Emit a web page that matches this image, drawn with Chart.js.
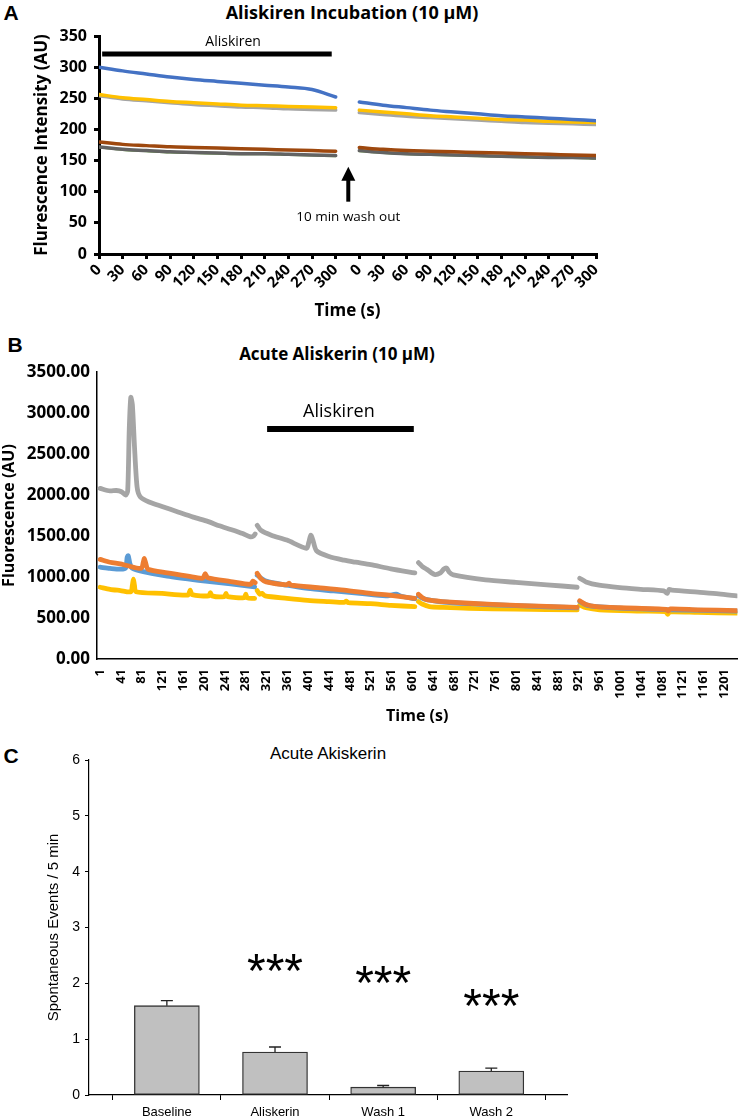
<!DOCTYPE html>
<html lang="en">
<head>
<meta charset="UTF-8">
<title>Aliskiren</title>
<style>
  body { margin: 0; background: #fff; }
  #page { position: relative; width: 750px; height: 1120px; overflow: hidden; background: #fff; }
  .box { position: absolute; }
  .txt { position: absolute; transform: translate(-50%, -50%); white-space: nowrap; color: #000; }
  .letter { font-family: 'Liberation Sans', Arial, sans-serif; font-weight: bold; font-size: 21px; }
  .head { font-family: 'Open Sans', sans-serif; font-weight: bold; }
</style>
</head>
<body>
<div id="page">
  <!-- panel A -->
  <div class="txt letter" style="left:11px;top:13px">A</div>
  <div class="txt head" style="left:352px;top:12px;font-size:18px">Aliskiren Incubation (10 μM)</div>
  <div class="box" style="left:0;top:0;width:700px;height:325px"><canvas id="chartA"></canvas></div>

  <!-- panel B -->
  <div class="txt letter" style="left:15px;top:345px">B</div>
  <div class="txt head" style="left:337px;top:353px;font-size:17px">Acute Aliskerin (10 μM)</div>
  <div class="box" style="left:0;top:330px;width:750px;height:396px"><canvas id="chartB"></canvas></div>

  <!-- panel C -->
  <div class="txt letter" style="left:11px;top:756px">C</div>
  <div class="txt" style="left:328px;top:754px;font-family:'Liberation Sans',Arial,sans-serif;font-size:17px">Acute Akiskerin</div>
  <div class="box" style="left:0;top:735px;width:600px;height:385px"><canvas id="chartC"></canvas></div>
</div>

<script src="https://cdn.jsdelivr.net/npm/chart.js"></script>
<script>
// ---------- panel A : two 5 min recordings, 10 min wash out between ----------
const timesA = [0, 30, 60, 90, 120, 150, 180, 210, 240, 270, 300];
const washGapA = 330;   // second recording is drawn after the first one
const blueA1   = [300, 294, 289, 284, 280, 277, 274, 271, 268, 264, 252];
const blueA2   = [244, 239, 235, 231, 228, 225, 222, 220, 218, 216, 214];
const yellowA1 = [256, 251, 248, 245, 243, 241, 239, 238, 237, 236, 235];
const yellowA2 = [231, 228, 225, 222, 220, 218, 216, 215, 213, 212, 211];
const grayA1   = [254, 249, 246, 243, 240, 238, 236, 235, 233, 232, 231];
const grayA2   = [227, 224, 221, 219, 217, 215, 213, 211, 210, 209, 208];
const brownA1  = [180, 176, 174, 172, 171, 170, 169, 168, 167, 166, 165];
const brownA2  = [171, 168, 166, 165, 164, 163, 162, 161, 160, 159, 158];
const dgrayA1  = [172, 168, 166, 164, 163, 162, 161, 161, 160, 159, 158];
const dgrayA2  = [166, 163, 161, 160, 159, 158, 157, 156, 155, 155, 154];
const greenA1  = [171, 167, 165, 163, 162, 161, 160, 160, 159, 158, 157];
const greenA2  = [165, 162, 160, 159, 158, 157, 156, 155, 154, 154, 153];

// ---------- panel B : [time (s), fluorescence], null = break between recordings ----------
const grayB = [
  [1,2080],[20,2050],[32,2055],[42,2040],[50,2000],[54,2050],[57,2800],[60,3190],[63,3100],[67,2600],[72,2100],[78,1980],
  [95,1915],[120,1860],[152,1790],[180,1730],[209,1675],[230,1625],[252,1580],[275,1530],[290,1490],[296,1500],[299,1525],
  null,
  [303,1630],[310,1570],[330,1510],[360,1450],[398,1350],[402,1420],[406,1510],[410,1450],[417,1320],[441,1250],
  [470,1205],[492,1180],[521,1150],[560,1100],[606,1050],
  null,
  [613,1175],[620,1130],[630,1090],[644,1030],[655,1050],[662,1100],[667,1110],[672,1060],[680,1025],[742,965],
  [800,935],[860,905],[918,875],
  null,
  [923,985],[935,940],[960,900],[1000,870],[1040,850],[1085,830],[1091,800],[1095,850],[1100,840],[1150,815],
  [1190,795],[1225,770]
];
const orangeB = [
  [1,1215],[20,1180],[40,1160],[52,1140],[80,1105],[84,1180],[86,1225],[89,1160],[93,1095],[130,1050],[170,1010],
  [198,985],[203,1040],[208,990],[252,945],[290,910],[295,950],[299,930],
  null,
  [303,1045],[310,980],[320,940],[360,905],[364,925],[368,900],[420,870],[470,840],[521,800],[560,775],[606,740],
  null,
  [613,790],[620,750],[630,720],[660,700],[710,680],[800,655],[918,630],
  null,
  [923,710],[935,665],[955,640],[1000,625],[1090,605],[1093,585],[1097,610],[1150,600],[1225,590]
];
const blueB = [
  [1,1120],[20,1105],[40,1095],[50,1110],[53,1240],[55,1260],[58,1170],[62,1110],[84,1065],[130,1010],[190,960],
  [252,915],[298,880],
  null,
  [303,1020],[320,950],[360,900],[400,860],[450,830],[500,800],[550,770],[570,790],[580,765],[606,735],
  null,
  [613,770],[625,730],[660,695],[710,675],[800,650],[918,625],
  null,
  [923,700],[940,650],[1000,620],[1100,600],[1225,585]
];
const yellowB = [
  [1,875],[20,850],[40,835],[60,820],[63,900],[65,975],[67,900],[70,820],[120,800],[170,780],[174,840],[178,785],
  [210,770],[213,810],[216,770],[240,762],[243,800],[246,760],[278,748],[281,790],[284,745],[298,740],
  null,
  [303,835],[308,790],[312,800],[318,770],[360,740],[400,715],[441,700],[470,690],[474,705],[478,688],[521,675],
  [560,655],[606,638],
  null,
  [613,700],[620,670],[634,640],[660,630],[710,618],[800,608],[918,598],
  null,
  [923,660],[935,625],[961,600],[1040,585],[1088,578],[1092,545],[1096,575],[1150,568],[1225,560]
];
const tickTimesB = [1, 41, 81, 121, 161, 201, 241, 281, 321, 361, 401, 441, 481, 521, 561, 601, 641, 681,
  721, 761, 801, 841, 881, 921, 961, 1001, 1041, 1081, 1121, 1161, 1201];

// ---------- panel C ----------
const groupsC = ['Baseline', 'Aliskerin', 'Wash 1', 'Wash 2'];
const eventsC = [1.6, 0.77, 0.14, 0.43];
const semC    = [0.09, 0.09, 0.03, 0.05];
const starsC  = ['', '***', '***', '***'];
const starLevelC = [null, 2.42, 2.2, 1.79];

Chart.defaults.font.family = "'Open Sans', sans-serif";
Chart.defaults.color = '#000';

const segA = (a1, a2) => timesA.map((t, i) => ({x: t, y: a1[i]}))
  .concat([{x: 315, y: null}])
  .concat(timesA.map((t, i) => ({x: t + washGapA, y: a2[i]})));
const pts = arr => arr.map(p => p ? {x: p[0], y: p[1]} : {x: null, y: null});

function notes(draw) {
  return {
    id: 'notes',
    afterDatasetsDraw(chart) {
      const ctx = chart.ctx;
      ctx.save();
      draw(ctx, chart.scales.x, chart.scales.y);
      ctx.restore();
    }
  };
}

const lineA = (data, color, w) => ({data, borderColor: color, borderWidth: w || 3.5, pointRadius: 0,
  cubicInterpolationMode: 'monotone', borderCapStyle: 'round'});

// panel A
new Chart(document.getElementById('chartA'), {
  type: 'line',
  data: {
    datasets: [
      lineA(segA(blueA1, blueA2), '#4472C4'),
      lineA(segA(yellowA1, yellowA2), '#FFC000'),
      lineA(segA(grayA1, grayA2), '#A5A5A5'),
      lineA(segA(brownA1, brownA2), '#9E480E'),
      lineA(segA(dgrayA1, dgrayA2), '#636363'),
      lineA(segA(greenA1, greenA2), '#70AD47', 2)
    ]
  },
  options: {
    responsive: true,
    maintainAspectRatio: false,
    animation: false,
    layout: {padding: {top: 36, right: 104, left: 0, bottom: 0}},
    plugins: {legend: {display: false}, tooltip: {enabled: false}},
    scales: {
      x: {
        type: 'linear', min: 0, max: 630,
        afterFit: s => { s.height = 71; },
        ticks: {stepSize: 30, autoSkip: false, minRotation: 45, maxRotation: 45, padding: 2,
          font: {size: 15, weight: 'bold'},
          callback: v => String(v > 300 ? v - washGapA : v)},
        grid: {drawOnChartArea: false, drawTicks: true, tickLength: 5, color: '#000', lineWidth: 3},
        border: {color: '#000', width: 3},
        title: {display: true, text: 'Time (s)', font: {size: 17, weight: 'bold'}, padding: {top: 0, bottom: 4}}
      },
      y: {
        min: 0, max: 350,
        afterFit: s => { s.width = 99; },
        ticks: {stepSize: 50, padding: 7, font: {size: 16, weight: 'bold'}},
        grid: {drawOnChartArea: false, drawTicks: true, tickLength: 5, color: '#000', lineWidth: 3},
        border: {color: '#000', width: 3},
        title: {display: true, text: 'Flurescence Intensity (AU)', font: {size: 17, weight: 'bold'}, padding: {top: 32, bottom: 0}}
      }
    }
  },
  plugins: [notes((ctx, x, y) => {
    ctx.strokeStyle = '#000';
    ctx.fillStyle = '#000';
    ctx.lineWidth = 5;
    ctx.beginPath();
    ctx.moveTo(x.getPixelForValue(4), y.getPixelForValue(321));
    ctx.lineTo(x.getPixelForValue(295), y.getPixelForValue(321));
    ctx.stroke();
    ctx.font = "14px 'Open Sans', sans-serif";
    ctx.textAlign = 'center';
    ctx.textBaseline = 'middle';
    ctx.fillText('Aliskiren', x.getPixelForValue(170), y.getPixelForValue(340));
    // wash out arrow
    const ax = x.getPixelForValue(316);
    const tip = y.getPixelForValue(140);
    ctx.lineWidth = 4;
    ctx.beginPath();
    ctx.moveTo(ax, y.getPixelForValue(84));
    ctx.lineTo(ax, tip + 10);
    ctx.stroke();
    ctx.beginPath();
    ctx.moveTo(ax, tip);
    ctx.lineTo(ax - 7, tip + 14);
    ctx.lineTo(ax + 7, tip + 14);
    ctx.closePath();
    ctx.fill();
    ctx.font = "13.5px 'Open Sans', sans-serif";
    ctx.fillText('10 min wash out', ax, y.getPixelForValue(59));
  })]
});

// panel B
const lineB = (arr, color) => ({data: pts(arr), borderColor: color, borderWidth: 4.8, pointRadius: 0,
  tension: 0.25, borderCapStyle: 'round', borderJoinStyle: 'round'});

new Chart(document.getElementById('chartB'), {
  type: 'line',
  data: {
    datasets: [
      lineB(orangeB, '#ED7D31'),
      lineB(blueB, '#5B9BD5'),
      lineB(yellowB, '#FFC000'),
      lineB(grayB, '#A5A5A5')
    ]
  },
  options: {
    responsive: true,
    maintainAspectRatio: false,
    animation: false,
    layout: {padding: {top: 42, right: 2, left: 0, bottom: 0}},
    plugins: {legend: {display: false}, tooltip: {enabled: false}},
    scales: {
      x: {
        type: 'linear', min: -5, max: 1226,
        afterBuildTicks: s => { s.ticks = tickTimesB.map(v => ({value: v})); },
        afterFit: s => { s.height = 67; },
        ticks: {autoSkip: false, minRotation: 90, maxRotation: 90, padding: 10, font: {size: 13, weight: 'bold'},
          callback: v => String(v)},
        grid: {display: false, drawTicks: false},
        border: {display: true, color: '#000', width: 1.5},
        title: {display: true, text: 'Time (s)', font: {size: 16, weight: 'bold'}, padding: {top: 0, bottom: 0}}
      },
      y: {
        min: 0, max: 3500,
        afterFit: s => { s.width = 97; },
        ticks: {stepSize: 500, padding: 7, font: {size: 17, weight: 'bold'}, callback: v => v.toFixed(2)},
        grid: {display: false, drawTicks: false},
        border: {display: true, color: '#000', width: 1.5},
        title: {display: true, text: 'Fluorescence (AU)', font: {size: 16, weight: 'bold'}, padding: {top: 0, bottom: 0}}
      }
    }
  },
  plugins: [notes((ctx, x, y) => {
    ctx.strokeStyle = '#000';
    ctx.fillStyle = '#000';
    ctx.lineWidth = 6;
    ctx.beginPath();
    ctx.moveTo(x.getPixelForValue(322), y.getPixelForValue(2805));
    ctx.lineTo(x.getPixelForValue(604), y.getPixelForValue(2805));
    ctx.stroke();
    ctx.font = "18px 'Open Sans', sans-serif";
    ctx.textAlign = 'center';
    ctx.textBaseline = 'middle';
    ctx.fillText('Aliskiren', x.getPixelForValue(460), y.getPixelForValue(3010));
  })]
});

// panel C
const fontC = "'Liberation Sans', Arial, sans-serif";
new Chart(document.getElementById('chartC'), {
  type: 'bar',
  data: {
    datasets: [{
      data: eventsC.map((v, i) => ({x: i, y: v})),
      backgroundColor: '#C0C0C0',
      borderColor: '#333',
      borderWidth: 1.3,
      borderSkipped: false,
      barThickness: 65
    }]
  },
  options: {
    responsive: true,
    maintainAspectRatio: false,
    animation: false,
    layout: {padding: {top: 25, right: 33, left: 0, bottom: 0}},
    plugins: {legend: {display: false}, tooltip: {enabled: false}},
    scales: {
      x: {
        type: 'linear', min: -0.72, max: 3.7, offset: false,
        afterBuildTicks: s => { s.ticks = groupsC.map((g, i) => ({value: i})); },
        afterFit: s => { s.height = 25; },
        ticks: {autoSkip: false, maxRotation: 0, padding: 5, font: {family: fontC, size: 13},
          callback: v => groupsC[v]},
        grid: {drawOnChartArea: false, drawTicks: true, tickLength: 5, color: '#000', lineWidth: 1},
        border: {color: '#000', width: 1.2}
      },
      y: {
        min: 0, max: 6,
        afterFit: s => { s.width = 89; },
        ticks: {stepSize: 1, padding: 5, font: {family: fontC, size: 14}},
        grid: {drawOnChartArea: false, drawTicks: true, tickLength: 4, color: '#000', lineWidth: 1},
        border: {color: '#000', width: 1.2},
        title: {display: true, text: 'Spontaneous Events / 5 min', font: {family: fontC, size: 15}, padding: {top: 45, bottom: 0}}
      }
    }
  },
  plugins: [notes((ctx, x, y) => {
    ctx.strokeStyle = '#222';
    ctx.fillStyle = '#000';
    ctx.lineWidth = 1.3;
    eventsC.forEach((v, i) => {
      const cx = x.getPixelForValue(i);
      const top = y.getPixelForValue(v + semC[i]);
      ctx.beginPath();
      ctx.moveTo(cx, y.getPixelForValue(v));
      ctx.lineTo(cx, top);
      ctx.moveTo(cx - 6, top);
      ctx.lineTo(cx + 6, top);
      ctx.stroke();
      if (starsC[i]) {
        ctx.font = '48px ' + fontC;
        ctx.textAlign = 'center';
        ctx.textBaseline = 'alphabetic';
        ctx.fillText(starsC[i], cx, y.getPixelForValue(starLevelC[i]) + 0.56 * 48);
      }
    });
  })]
});
</script>
</body>
</html>
